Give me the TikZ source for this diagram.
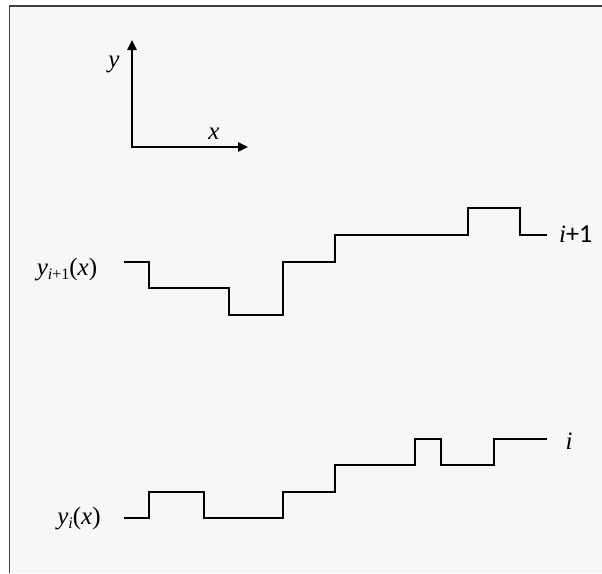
\documentclass[tikz,border=0pt]{standalone}
\usepackage{fontspec}
\setmainfont{Liberation Serif}
\newfontfamily\tnr{Liberation Serif}
\newfontfamily\calib{Carlito}
\newcommand{\vi}[1]{{\tnr\itshape #1}}
\usetikzlibrary{arrows.meta}
\begin{document}
\begin{tikzpicture}[x=1pt,y=-1pt,
  curve/.style={line width=2pt, line join=miter},
  axis/.style={line width=2.4pt, {Triangle[length=10pt,width=9pt]}-{Triangle[length=10pt,width=9pt]}},
  lbl/.style={font=\tnr\fontsize{25}{28}\selectfont, inner sep=0pt}]
\fill[white] (0,0) rectangle (602,573);
\fill[black!3] (9.5,6) rectangle (602,573);
\useasboundingbox (0,0) rectangle (602,573);
\draw[line width=1.5pt, black!75] (9.5,573) -- (9.5,6) -- (602,6);
% axes
\coordinate (O) at (132,147);
\coordinate (Ytip) at (132,40);
\coordinate (Xtip) at (248,147);
\draw[axis] (Ytip) -- (O) -- (Xtip);
\node[lbl] (ylab) at (114,64) {\vi{y}};
\node[lbl] (xlab) at (214,134) {\vi{x}};
% upper curve
\node[lbl] (ul) at (67,270) {\vi{y}\raisebox{-0.3ex}{\fontsize{16}{18}\selectfont\vi{i}+1}(\vi{x})};
\node[lbl, anchor=west] (ur) at (559,234) {\vi{i}{\calib\fontsize{26}{28}\selectfont+1}};
\coordinate (us) at (124,262);
\coordinate (ue) at (547,235);
\draw[curve] (us) -| (149,288) -| (229,315) -| (283,262) -| (335,235) -| (468,208) -| (520,235) -- (ue);
% lower curve
\node[lbl] (ll) at (79,519) {\vi{y}\raisebox{-0.3ex}{\fontsize{16}{18}\selectfont\vi{i}}(\vi{x})};
\node[lbl] (lr) at (569,441) {\vi{i}};
\coordinate (ls) at (124,518);
\coordinate (le) at (547,439);
\draw[curve] (ls) -| (149,492) -| (204,518) -| (283,492) -| (335,465) -| (415,439) -| (441,465) -| (494,439) -- (le);
\end{tikzpicture}
\end{document}
